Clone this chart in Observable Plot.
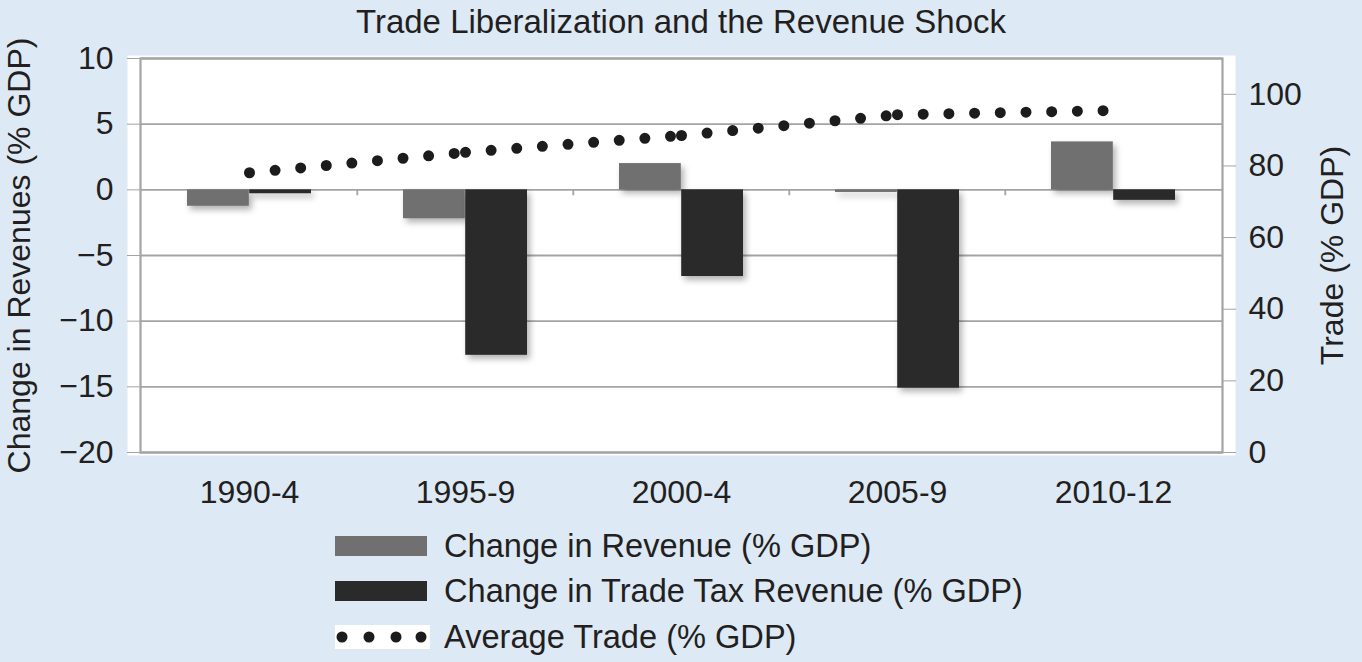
<!DOCTYPE html>
<html><head><meta charset="utf-8">
<script src="https://cdn.jsdelivr.net/npm/d3@7"></script>
<script src="https://cdn.jsdelivr.net/npm/@observablehq/plot@0.6"></script>
<style>
body{margin:0;background:#dde9f5;font-family:"Liberation Sans",Arial,sans-serif;color:#231f20;width:1362px;height:662px;overflow:hidden}
#title{height:44px;line-height:44px;text-align:center;font-size:33px;}
#chart{position:relative;width:1362px;height:470px;}
#chart svg{position:absolute;left:0;top:0;overflow:visible}
g[aria-label="bar"]{filter:drop-shadow(3px 4px 3px rgba(0,0,0,0.3));}
#legend{padding-top:9px;}
.row{display:flex;align-items:center;height:45.5px;padding-left:335px;font-size:32.6px;}
.row svg{display:block;margin-right:14px;}
</style>
</head><body>
<div id="title">Trade Liberalization and the Revenue Shock</div>
<div id="chart"></div>
<div id="legend"></div>
<script>
const periods = ["1990-4", "1995-9", "2000-4", "2005-9", "2010-12"];
const changeRevenue = [-1.25, -2.2, 2.0, -0.2, 3.65];
const changeTradeTax = [-0.3, -12.6, -6.6, -15.1, -0.8];
const avgTrade = [78.1, 83.8, 88.5, 94.3, 95.5];
const leftTicks = [-20, -15, -10, -5, 0, 5, 10];
const rightTicks = [0, 20, 40, 60, 80, 100];
const seriesNames = ["Change in Revenue (% GDP)", "Change in Trade Tax Revenue (% GDP)", "Average Trade (% GDP)"];
const leftTitle = "Change in Revenues (% GDP)";
const rightTitle = "Trade (% GDP)";

const W = 1362, H = 470;
const M = {top: 14, right: 140, bottom: 62, left: 140};
const bw = (W - M.left - M.right) / periods.length;
const greyFill = "#707070", darkFill = "#2b2a2a", gridColor = "#a4a4a4", textColor = "#231f20";
const font = '"Liberation Sans", Arial, sans-serif';
const minus = d => d < 0 ? "\u2212" + (-d) : String(d);

const rows = periods.map((p, i) => ({period: p, rev: changeRevenue[i], tax: changeTradeTax[i], trade: avgTrade[i]}));
const segs = d3.pairs(rows).map(([a, b]) => ({p1: a.period, v1: a.trade, p2: b.period, v2: b.trade}));

const common = {
  width: W, height: H,
  marginTop: M.top, marginRight: M.right, marginBottom: M.bottom, marginLeft: M.left,
  style: {background: "transparent", fontFamily: font, fontSize: "32px", color: textColor, overflow: "visible"}
};

const barsPlot = Plot.plot({
  ...common,
  x: {type: "band", domain: periods, paddingInner: 0, paddingOuter: 0, axis: null},
  y: {domain: [-20, 10], axis: null},
  marks: [
    Plot.frame({fill: "white", stroke: null, insetLeft: -13, insetRight: -13, insetTop: -3, insetBottom: -3}),
    Plot.ruleY(leftTicks, {stroke: gridColor, strokeWidth: 1.8}),
    Plot.barY(rows, {x: "period", y: "rev", fill: greyFill, insetLeft: 46, insetRight: bw / 2}),
    Plot.barY(rows, {x: "period", y: "tax", fill: darkFill, insetLeft: bw / 2, insetRight: 46}),
    Plot.ruleX(periods.slice(1), {x: d => d, y1: 0, y2: -0.45, stroke: gridColor, strokeWidth: 1.8, dx: -bw / 2}),
    Plot.frame({stroke: gridColor, strokeWidth: 2.2}),
    Plot.axisY({ticks: leftTicks, tickSize: 13, tickPadding: 14, tickFormat: minus, label: null, stroke: gridColor, fill: textColor, fontSize: 32}),
    Plot.axisX({anchor: "bottom", tickSize: 0, tickPadding: 28, label: null, fill: textColor, fontSize: 32}),
    Plot.text([leftTitle], {frameAnchor: "left", textAnchor: "middle", rotate: -90, dx: -121, fontSize: 32, fill: textColor})
  ]
});

const tradePlot = Plot.plot({
  ...common,
  x: {type: "point", domain: periods, padding: 0.5, axis: null},
  y: {domain: [0, 110], axis: null},
  marks: [
    Plot.link(segs, {x1: "p1", y1: "v1", x2: "p2", y2: "v2", stroke: "#1c1c1c", strokeWidth: 11, strokeDasharray: "0 25.7", strokeLinecap: "round"}),
    Plot.axisY({anchor: "right", ticks: rightTicks, tickSize: 13, tickPadding: 13, label: null, stroke: gridColor, fill: textColor, fontSize: 32}),
    Plot.text([rightTitle], {frameAnchor: "right", textAnchor: "middle", rotate: -90, dx: 110, fontSize: 32, fill: textColor})
  ]
});

const chart = document.getElementById("chart");
chart.appendChild(barsPlot);
chart.appendChild(tradePlot);

// legend
const legend = d3.select("#legend");
const swatches = [
  s => s.append("rect").attr("x", 0).attr("y", 0).attr("width", 92).attr("height", 20).attr("fill", greyFill),
  s => s.append("rect").attr("x", 0).attr("y", 0).attr("width", 92).attr("height", 20).attr("fill", darkFill),
  s => {
    s.append("rect").attr("x", 0).attr("y", -2).attr("width", 95).attr("height", 24).attr("fill", "white");
    [7, 34, 61, 86].forEach(cx => s.append("circle").attr("cx", cx).attr("cy", 10).attr("r", 5.5).attr("fill", "#1c1c1c"));
  }
];
seriesNames.forEach((name, i) => {
  const row = legend.append("div").attr("class", "row");
  const svg = row.append("svg").attr("width", 95).attr("height", 22).attr("viewBox", "0 -1 95 22").style("overflow", "visible");
  swatches[i](svg);
  row.append("span").text(name);
});
</script>
</body></html>
